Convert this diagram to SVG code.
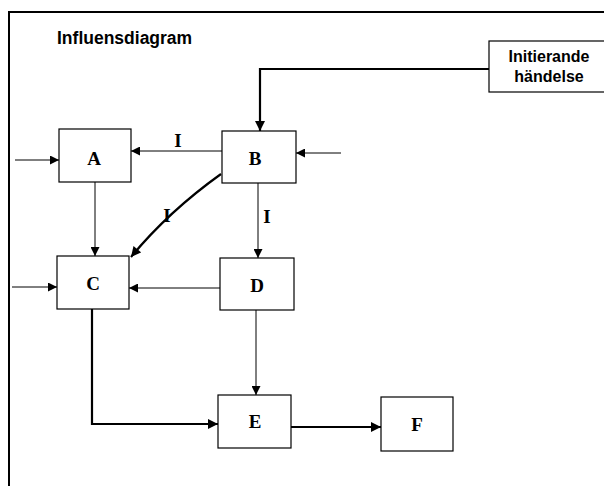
<svg xmlns="http://www.w3.org/2000/svg" width="604" height="486" viewBox="0 0 604 486">
<defs>
<marker id="ah" viewBox="0 0 10 10" refX="10" refY="5" markerWidth="10" markerHeight="9" markerUnits="userSpaceOnUse" orient="auto">
<path d="M0,0 L10,5 L0,10 z" fill="#000"/>
</marker>
<marker id="ahb" viewBox="0 0 10 10" refX="10" refY="5" markerWidth="11" markerHeight="10" markerUnits="userSpaceOnUse" orient="auto">
<path d="M0,0 L10,5 L0,10 z" fill="#000"/>
</marker>
</defs>
<style>
.box{fill:#fff;stroke:#000;stroke-width:1.2}
.lbl{font-family:"Liberation Serif",serif;font-weight:bold;font-size:19px;text-anchor:middle}
.il{font-family:"Liberation Serif",serif;font-weight:bold;font-size:19px;text-anchor:middle}
.sans{font-family:"Liberation Sans",Arial,sans-serif;font-weight:bold}
.thin{fill:none;stroke:#000;stroke-width:1;marker-end:url(#ah)}
.thick{fill:none;stroke:#000;stroke-width:2.2;marker-end:url(#ahb)}
</style>
<rect width="604" height="486" fill="#fff"/>
<path d="M9,486 L9,12 L604,12" fill="none" stroke="#000" stroke-width="2"/>
<text class="sans" x="57" y="44" font-size="17.5">Influensdiagram</text>
<g id="init">
<rect class="box" x="489" y="41" width="120" height="51"/>
<text class="sans" x="549" y="62" font-size="16" text-anchor="middle">Initierande</text>
<text class="sans" x="549" y="82" font-size="16" text-anchor="middle">händelse</text>
</g>
<g id="A"><rect class="box" x="59" y="129" width="72" height="53"/><text class="lbl" x="94" y="165">A</text></g>
<g id="B"><rect class="box" x="222" y="131" width="74" height="52"/><text class="lbl" x="255" y="165">B</text></g>
<g id="C"><rect class="box" x="57" y="256" width="72" height="53"/><text class="lbl" x="93" y="290">C</text></g>
<g id="D"><rect class="box" x="220" y="258" width="74" height="52"/><text class="lbl" x="257" y="292">D</text></g>
<g id="E"><rect class="box" x="218" y="395" width="73" height="53"/><text class="lbl" x="255" y="428">E</text></g>
<g id="F"><rect class="box" x="381" y="397" width="72" height="54"/><text class="lbl" x="417" y="431">F</text></g>
<g id="connectors">
<path class="thick" d="M489,69 L260,69 L260,131"/>
<path class="thin" d="M15,160 L59,160"/>
<path class="thin" d="M222,151 L131,151"/>
<path class="thin" d="M341,153 L296,153"/>
<path class="thin" d="M95,182 L95,256"/>
<path class="thick" d="M221,174 Q168,212 131,257"/>
<path class="thin" d="M258,183 L258,258"/>
<path class="thin" d="M220,288 L129,288"/>
<path class="thin" d="M12,287 L57,287"/>
<path class="thin" d="M256,310 L256,395"/>
<path class="thick" d="M92,309 L92,424 L218,424"/>
<path class="thick" d="M291,427 L381,427" stroke-width="2.8"/>
<text class="il" x="178" y="147">I</text>
<text class="il" x="167" y="222">I</text>
<text class="il" x="267" y="223">I</text>
</g>
</svg>
